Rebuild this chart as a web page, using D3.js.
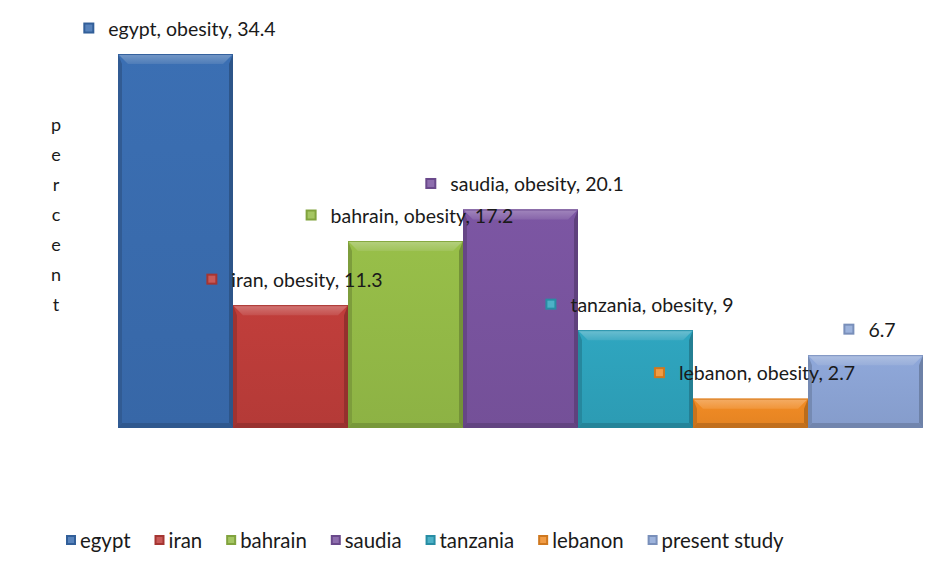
<!DOCTYPE html>
<html><head><meta charset="utf-8">
<script src="https://cdn.jsdelivr.net/npm/d3@7"></script>
<style>body{margin:0;background:#fff}svg{display:block}text{font-family:Lato,"Noto Sans",sans-serif;fill:#1a1a1a}</style>
</head><body>
<svg id="c" width="943" height="564"></svg>
<script>
const categories = ["egypt","iran","bahrain","saudia","tanzania","lebanon","present study"];
const values = [34.4, 11.3, 17.2, 20.1, 9, 2.7, 6.7];
const labels = ["egypt, obesity, 34.4","iran, obesity, 11.3","bahrain, obesity, 17.2","saudia, obesity, 20.1","tanzania, obesity, 9","lebanon, obesity, 2.7","6.7"];
const colors = ["#3A6DB0","#BE3D3A","#95BC48","#7A54A0","#2EA3BD","#EF8A24","#8CA5D6"];
const yTitle = "percent";

const svg = d3.select("#c");
svg.append("rect").attr("width",943).attr("height",564).attr("fill","#fff");
const x = d3.scaleBand().domain(categories).range([118, 923]).padding(0);
const y = d3.scaleLinear().domain([0, 35]).range([428, 47.5]);

const defs = svg.append("defs");
colors.forEach((c,i)=>{
  const base = d3.color(c);
  const g = defs.append("linearGradient").attr("id","top"+i).attr("x1",0).attr("y1",0).attr("x2",0).attr("y2",1);
  g.append("stop").attr("offset",0).attr("stop-color",d3.interpolateRgb(c,"#fff")(0.3));
  g.append("stop").attr("offset",1).attr("stop-color",d3.interpolateRgb(c,"#fff")(0.1));
  const m = defs.append("linearGradient").attr("id","main"+i).attr("x1",0).attr("y1",0).attr("x2",0).attr("y2",1);
  m.append("stop").attr("offset",0).attr("stop-color",base.brighter(0.05));
  m.append("stop").attr("offset",1).attr("stop-color",base.darker(0.15));
});

const bt = 10, bs = 4, bb = 5;
const gBars = svg.append("g");
categories.forEach((cat,i)=>{
  const x0 = x(cat), x1 = x(cat)+x.bandwidth(), yt = y(values[i]), yb = y(0);
  const c = colors[i];
  const g = gBars.append("g");
  g.append("rect").attr("x",x0).attr("y",yt).attr("width",x1-x0).attr("height",yb-yt).attr("fill",`url(#main${i})`);
  g.append("path").attr("d",`M${x0},${yt}L${x0+bs},${yt+bt}L${x0+bs},${yb-bb}L${x0},${yb}Z`).attr("fill",d3.color(c).darker(0.5));
  g.append("path").attr("d",`M${x1},${yt}L${x1-bs},${yt+bt}L${x1-bs},${yb-bb}L${x1},${yb}Z`).attr("fill",d3.color(c).darker(0.7));
  g.append("path").attr("d",`M${x0},${yb}L${x0+bs},${yb-bb}L${x1-bs},${yb-bb}L${x1},${yb}Z`).attr("fill",d3.color(c).darker(0.6));
  g.append("path").attr("d",`M${x0},${yt}L${x1},${yt}L${x1-bt},${yt+bt}L${x0+bt},${yt+bt}Z`).attr("fill",`url(#top${i})`);
  g.append("line").attr("x1",x0).attr("x2",x1).attr("y1",yt+0.5).attr("y2",yt+0.5).attr("stroke",d3.color(c).darker(0.3)).attr("stroke-width",1);
});

function marker(g, cx, cy, i, s){
  const c = colors[i];
  g.append("rect").attr("x",cx-s/2).attr("y",cy-s/2).attr("width",s).attr("height",s).attr("fill",d3.color(c).darker(0.4));
  g.append("rect").attr("x",cx-s/2+2).attr("y",cy-s/2+2).attr("width",s-4).attr("height",s-4).attr("fill",d3.interpolateRgb(c,"#fff")(0.15));
}

// data labels
const gLab = svg.append("g");
categories.forEach((cat,i)=>{
  const g = gLab.append("g");
  const t = g.append("text").attr("font-size",19.5).attr("dominant-baseline","central").text(labels[i]);
  const w = t.node().getComputedTextLength();
  const total = 11 + 14 + w;
  const cx = x(cat) + x.bandwidth()/2 + 4;
  const left = cx - total/2;
  const cy = y(values[i]) - 26;
  t.attr("x", left + 25).attr("y", cy);
  marker(g, left + 5.5, cy, i, 11);
});

// y title
const gT = svg.append("g");
yTitle.split("").forEach((ch,k)=>{
  gT.append("text").attr("x",56).attr("y",124 + k*30).attr("text-anchor","middle").attr("dominant-baseline","central").attr("font-size",18).text(ch);
});

// legend
const gL = svg.append("g");
let lx = 66;
categories.forEach((cat,i)=>{
  marker(gL, lx+5, 540, i, 10);
  const t = gL.append("text").attr("x",lx+14).attr("y",540).attr("dominant-baseline","central").attr("font-size",20.4).text(cat);
  lx += 14 + t.node().getComputedTextLength() + 24;
});
</script>
</body></html>
